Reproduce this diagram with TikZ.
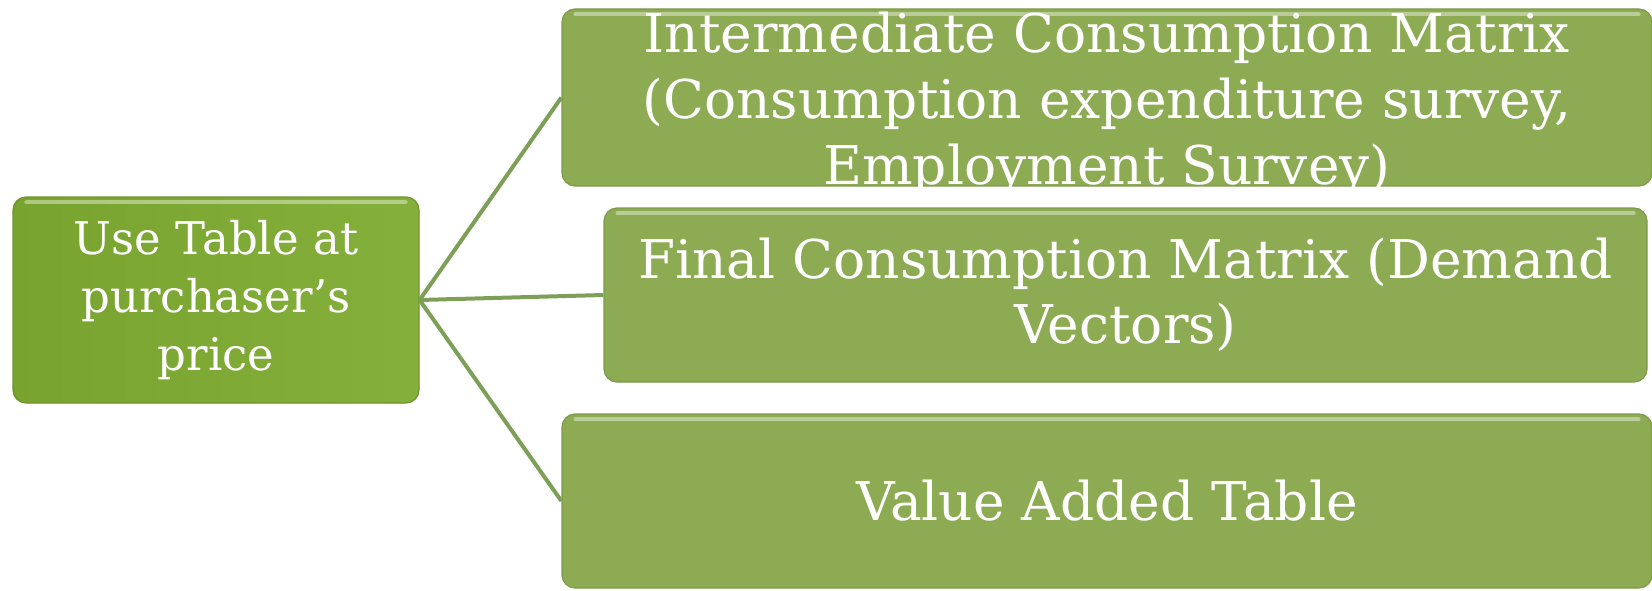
\documentclass[tikz,border=0pt]{standalone}
\usepackage{fontspec}
\setmainfont{DejaVu Serif}
\definecolor{leafgreen}{HTML}{85B13C}
\definecolor{leafdark}{HTML}{79A32F}
\definecolor{sagegreen}{HTML}{96B75B}
\definecolor{sagedark}{HTML}{8CAB53}
\definecolor{linkgreen}{HTML}{7E9F57}
\tikzset{
  sourcebox/.style={rectangle, rounded corners=6.5pt, inner sep=0pt, align=center,
    draw=leafdark!90!black, line width=0.6pt,
    left color=leafdark, middle color=leafgreen, right color=leafgreen!90!leafdark,
    text=white, font=\fontsize{22.5pt}{29pt}\selectfont},
  tablebox/.style={rectangle, rounded corners=6.5pt, inner sep=0pt, align=center,
    draw=sagedark!90!black, line width=0.6pt,
    left color=sagedark, middle color=sagegreen, right color=sagedark,
    text=white, font=\fontsize{26.7pt}{32.5pt}\selectfont},
  link/.style={draw=linkgreen, line width=2pt},
  gloss/.style={line width=2pt, line cap=round, draw=white, draw opacity=0.4},
}
\begin{document}
\begin{tikzpicture}[x=0.5pt,y=0.5pt]
\useasboundingbox (0,0) rectangle (1652,590);

\node[sourcebox, minimum width=203pt, minimum height=103pt] (use) at (216,290)
  {Use Table at\\purchaser’s\\price};
\node[tablebox, minimum width=545pt, minimum height=88.5pt] (inter) at (1107,492.5) {};
\node[tablebox, minimum width=521.5pt, minimum height=87pt] (final) at (1125.5,295)
  {Final Consumption Matrix (Demand\\Vectors)};
\node[tablebox, minimum width=545pt, minimum height=87pt] (value) at (1107,89)
  {Value Added Table};

% text of the top box runs past its lower edge and is cut there
\begin{scope}
  \clip (inter.south west) rectangle (1652,590);
  \node[align=center, text=white, font=\fontsize{26.7pt}{33pt}\selectfont] (intertext)
    at ([yshift=-3.5pt]inter.center)
    {Intermediate Consumption Matrix\\(Consumption expenditure survey,\\Employment Survey)};
\end{scope}

\foreach \b in {use,inter,final,value}
  \draw[gloss] ([shift={(7pt,-3pt)}]\b.north west) -- ([shift={(-7pt,-3pt)}]\b.north east);

\draw[link] (use.east) -- (inter.west);
\draw[link] (use.east) -- (final.west);
\draw[link] (use.east) -- (value.west);
\end{tikzpicture}
\end{document}
